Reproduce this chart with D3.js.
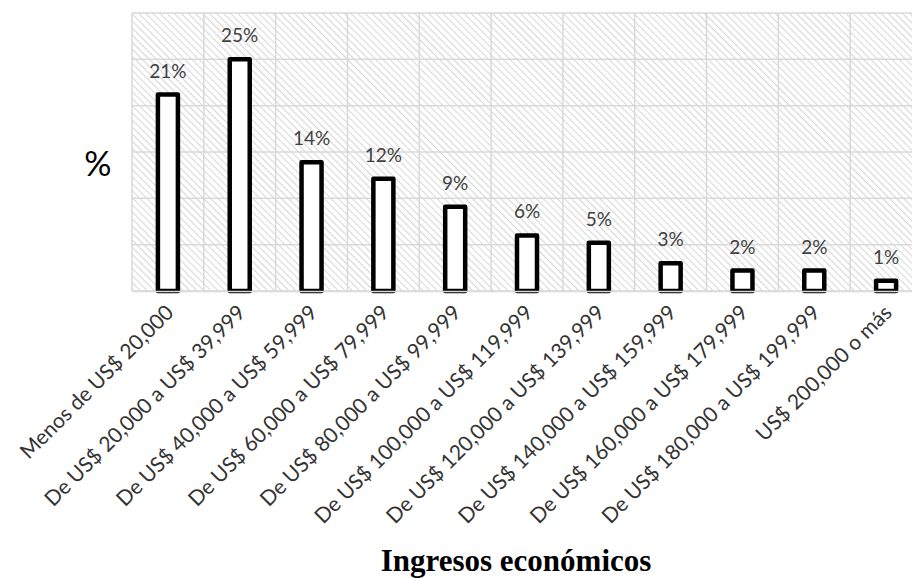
<!DOCTYPE html>
<html>
<head>
<meta charset="utf-8">
<script src="https://cdn.jsdelivr.net/npm/d3@7"></script>
<style>
  body { margin: 0; background: #fff; }
  svg { display: block; }
</style>
</head>
<body>
<div id="chart"></div>
<script>
const categories = [
  "Menos de US$ 20,000",
  "De US$ 20,000 a US$ 39,999",
  "De US$ 40,000 a US$ 59,999",
  "De US$ 60,000 a US$ 79,999",
  "De US$ 80,000 a US$ 99,999",
  "De US$ 100,000 a US$ 119,999",
  "De US$ 120,000 a US$ 139,999",
  "De US$ 140,000 a US$ 159,999",
  "De US$ 160,000 a US$ 179,999",
  "De US$ 180,000 a US$ 199,999",
  "US$ 200,000 o más"
];
const values = [21.2, 25, 13.9, 12.1, 9.1, 6, 5.2, 3, 2.2, 2.2, 1.1];
const valueLabels = ["21%", "25%", "14%", "12%", "9%", "6%", "5%", "3%", "2%", "2%", "1%"];
const yTicks = [0, 5, 10, 15, 20, 25, 30];

const W = 912, H = 578;
const margin = {top: 13, right: -10, bottom: 287, left: 132};
const width = W - margin.left - margin.right;
const height = H - margin.top - margin.bottom;
const labelFont = "Lato, 'Open Sans', sans-serif";

const svg = d3.select("#chart").append("svg")
  .attr("width", W)
  .attr("height", H);

// hatched background, lines falling to the right
const defs = svg.append("defs");
const pat = defs.append("pattern")
  .attr("id", "hatch")
  .attr("patternUnits", "userSpaceOnUse")
  .attr("width", 5)
  .attr("height", 5)
  .attr("patternTransform", "rotate(45)");
pat.append("rect").attr("width", 5).attr("height", 5).attr("fill", "#ffffff");
pat.append("line")
  .attr("x1", 0).attr("y1", 0).attr("x2", 5).attr("y2", 0)
  .attr("stroke", "#d6d6d6").attr("stroke-width", 2);

const g = svg.append("g")
  .attr("transform", "translate(" + margin.left + "," + margin.top + ")");

const xScale = d3.scaleBand().domain(categories).range([0, width]).padding(0);
const yScale = d3.scaleLinear().domain([0, 30]).range([height, 0]);

g.append("rect")
  .attr("width", width)
  .attr("height", height)
  .attr("fill", "url(#hatch)");

// grid
g.append("g").attr("class", "yGrid")
  .selectAll("line").data(yTicks).join("line")
  .attr("x1", 0).attr("x2", width)
  .attr("y1", d => yScale(d)).attr("y2", d => yScale(d))
  .attr("stroke", "#d9d9d9").attr("stroke-width", 1.5);

const xEdges = categories.map(c => xScale(c)).concat([width]);
g.append("g").attr("class", "xGrid")
  .selectAll("line").data(xEdges).join("line")
  .attr("x1", d => d).attr("x2", d => d)
  .attr("y1", 0).attr("y2", height)
  .attr("stroke", "#d9d9d9").attr("stroke-width", 1.5);

// bars
const barW = 20;
g.append("g").attr("class", "bars")
  .selectAll("rect").data(values).join("rect")
  .attr("x", (d, i) => xScale(categories[i]) + xScale.bandwidth() / 2 - barW / 2)
  .attr("y", d => yScale(d))
  .attr("width", barW)
  .attr("height", d => height - yScale(d))
  .attr("fill", "#ffffff")
  .attr("stroke", "#000000")
  .attr("stroke-width", 4.5)
  .attr("stroke-linejoin", "round");

// value labels
g.append("g").attr("class", "valueLabels")
  .selectAll("text").data(values).join("text")
  .attr("x", (d, i) => xScale(categories[i]) + xScale.bandwidth() / 2)
  .attr("y", d => yScale(d) - 17)
  .attr("text-anchor", "middle")
  .attr("font-family", labelFont)
  .attr("font-size", 19)
  .attr("fill", "#404040")
  .text((d, i) => valueLabels[i]);

// x axis
const xAxis = g.append("g").attr("class", "xAxisG")
  .attr("transform", "translate(0," + height + ")")
  .call(d3.axisBottom(xScale).tickSize(0).tickPadding(0));
xAxis.select(".domain").attr("stroke", "#d9d9d9").attr("stroke-width", 1.5);
xAxis.selectAll("text")
  .attr("font-family", labelFont)
  .attr("font-size", 21)
  .attr("fill", "#333")
  .attr("text-anchor", "end")
  .attr("dy", "0")
  .attr("transform", "translate(7,23) rotate(-45)");

// y label
svg.append("text")
  .attr("x", 98).attr("y", 176)
  .attr("text-anchor", "middle")
  .attr("font-family", labelFont)
  .attr("font-size", 34)
  .attr("fill", "#000")
  .text("%");

// x title
svg.append("text")
  .attr("x", 516).attr("y", 571)
  .attr("text-anchor", "middle")
  .attr("font-family", "'Liberation Serif', 'Times New Roman', serif")
  .attr("font-weight", "bold")
  .attr("font-size", 31)
  .attr("fill", "#000")
  .text("Ingresos económicos");
</script>
</body>
</html>
